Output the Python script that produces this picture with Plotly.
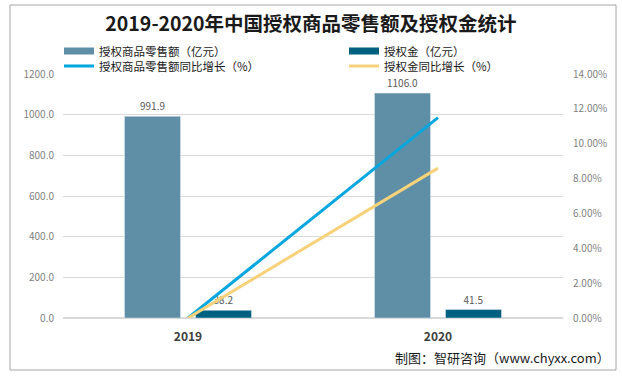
import plotly.graph_objects as go

# ---- data ----
years = ["2019", "2020"]
retail_sales = [991.9, 1106.0]          # 授权商品零售额（亿元）
royalty = [38.2, 41.5]                   # 授权金（亿元）
retail_growth = [0.0, 0.115]             # 授权商品零售额同比增长（%）
royalty_growth = [0.0, 0.086]            # 授权金同比增长（%）

name_retail = "授权商品零售额（亿元）"
name_royalty = "授权金（亿元）"
name_retail_g = "授权商品零售额同比增长（%）"
name_royalty_g = "授权金同比增长（%）"

c_retail = "#5f8fa6"
c_royalty = "#006080"
c_retail_g = "#00a6de"
c_royalty_g = "#f7d27a"

W, H = 622, 376
L, R, T, B = 63, 59, 74, 58
pw, ph = W - L - R, H - T - B

def px(x):
    return (x - L) / pw

def py(y):
    return (H - B - y) / ph

FONT = "Noto Sans CJK SC, sans-serif"

fig = go.Figure()

fig.add_trace(go.Bar(
    x=years, y=retail_sales, name=name_retail, marker_color=c_retail,
    text=[f"{v:.1f}" for v in retail_sales], textposition="outside",
    textfont=dict(size=10, color="#595959"), cliponaxis=False,
    showlegend=False, offsetgroup="a"))
fig.add_trace(go.Bar(
    x=years, y=royalty, name=name_royalty, marker_color=c_royalty,
    text=[f"{v:.1f}" for v in royalty], textposition="outside",
    textfont=dict(size=10, color="#595959"), cliponaxis=False,
    showlegend=False, offsetgroup="b"))
fig.add_trace(go.Scatter(
    x=years, y=retail_growth, name=name_retail_g, mode="lines",
    line=dict(color=c_retail_g, width=3), yaxis="y2", showlegend=False))
fig.add_trace(go.Scatter(
    x=years, y=royalty_growth, name=name_royalty_g, mode="lines",
    line=dict(color=c_royalty_g, width=3), yaxis="y2", showlegend=False))

# legend entries (one legend per slot to match the 2x2 layout)
legend_specs = [
    (name_retail, c_retail, 7, "legend", 59, 51),
    (name_royalty, c_royalty, 7, "legend2", 344, 51),
    (name_retail_g, c_retail_g, 3, "legend3", 59, 66),
    (name_royalty_g, c_royalty_g, 3, "legend4", 344, 66),
]
for nm, col, wd, lg, _, _ in legend_specs:
    fig.add_trace(go.Scatter(
        x=[None], y=[None], mode="lines", name=nm,
        line=dict(color=col, width=wd), legend=lg, yaxis="y2",
        hoverinfo="skip"))

layout_legends = {}
for nm, col, wd, lg, xl, yc in legend_specs:
    layout_legends[lg] = dict(
        x=px(xl), y=py(yc), xanchor="left", yanchor="middle",
        font=dict(size=11.5, color="#1a1a1a", family=FONT),
        bgcolor="rgba(0,0,0,0)", borderwidth=0, itemwidth=30,
        tracegroupgap=0)

fig.update_layout(
    width=W, height=H,
    margin=dict(l=L, r=R, t=T, b=B, autoexpand=False),
    paper_bgcolor="white", plot_bgcolor="white",
    font=dict(family=FONT, color="#595959"),
    title=dict(text="<b>2019-2020年中国授权商品零售额及授权金统计</b>",
               x=0.5, xanchor="center", y=1 - 24 / H, yanchor="middle",
               font=dict(size=19.5, color="#1a1a1a", family=FONT)),
    barmode="group", bargap=0.432, bargroupgap=0.211,
    xaxis=dict(showgrid=False, showline=False, ticks="",
               ticklabelstandoff=10,
               tickfont=dict(size=12, color="#404040", family=FONT),
               tickprefix="<b>", ticksuffix="</b>"),
    yaxis=dict(range=[0, 1200], dtick=200, tickformat=".1f",
               showgrid=True, gridcolor="#d9d9d9", gridwidth=1,
               zeroline=True, zerolinecolor="#d9d9d9", showline=False,
               ticklabelstandoff=8,
               tickfont=dict(size=10, color="#7f7f7f")),
    yaxis2=dict(range=[0, 0.14], dtick=0.02, tickformat=".2%",
                overlaying="y", side="right", showgrid=False,
                zeroline=False, showline=False, ticklabelstandoff=9,
                tickfont=dict(size=10, color="#7f7f7f")),
    shapes=[dict(type="rect", xref="paper", yref="paper",
                 x0=px(10), x1=px(616), y0=py(370), y1=py(5),
                 line=dict(color="#a6a6a6", width=1), layer="below")],
    annotations=[dict(text="制图：智研咨询（www.chyxx.com）",
                      xref="paper", yref="paper", x=px(612), y=py(357),
                      xanchor="right", yanchor="middle", showarrow=False,
                      font=dict(size=13, color="#1a1a1a", family=FONT))],
    **layout_legends,
)

fig.write_html(
    "out.html",
    config={"displayModeBar": False},
    post_script="document.body.style.margin='0';document.body.style.overflow='hidden';",
)
